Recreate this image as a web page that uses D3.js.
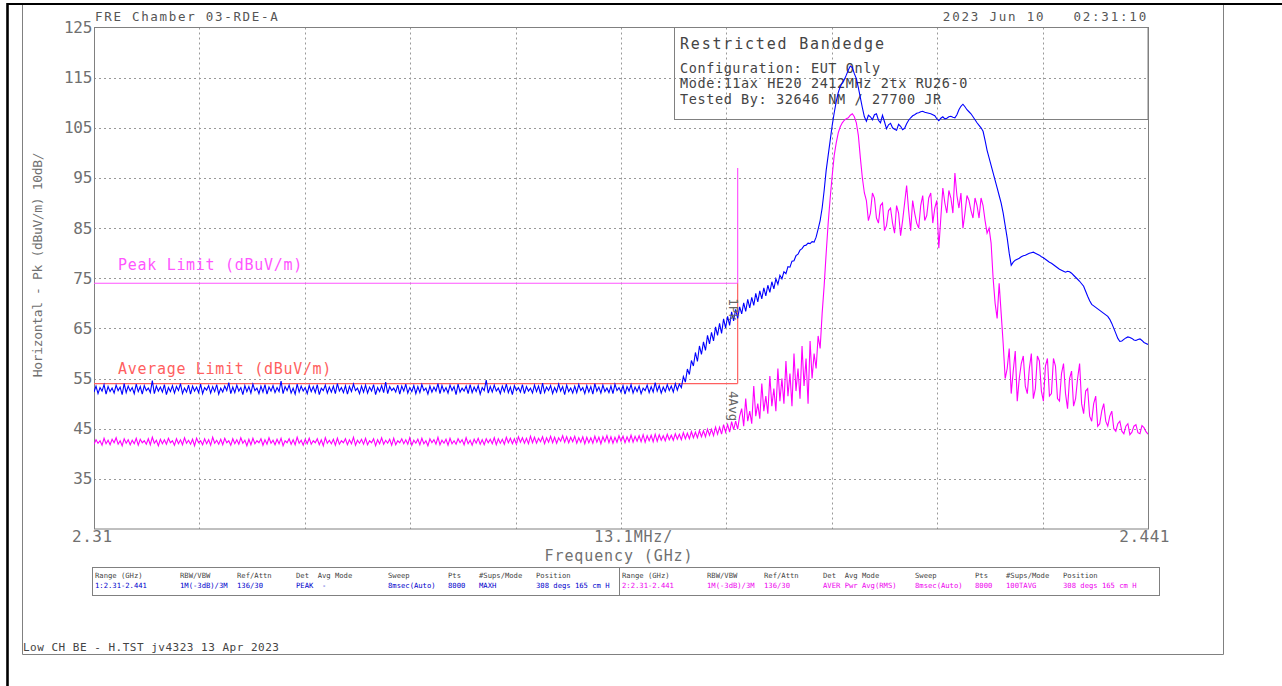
<!DOCTYPE html>
<html><head><meta charset="utf-8">
<script src="https://cdn.jsdelivr.net/npm/d3@7"></script>
<style>
body{margin:0;background:#fff;}
svg{display:block;}
text{font-family:"DejaVu Sans Mono",monospace;}
</style>
</head><body>
<svg id="c" width="1282" height="686"></svg>
<script>
// ---------------- DATA ----------------
const startGHz = 2.31, stopGHz = 2.441, stepGHz = 0.00025;   // display grid: 0.25 MHz per point
// Trace 1: Peak (MAXH), dBuV/m — readings at 2.3100, 2.3105, 2.3110 ... GHz
const peakTrace = [
52.3,52.0,52.5,51.9,52.4,52.1,52.6,51.8,52.2,52.5,
52.0,52.4,51.9,52.6,52.2,52.0,52.5,52.3,51.8,52.4,
52.1,52.6,52.0,52.3,51.9,52.5,52.2,52.0,52.7,52.1,
52.4,51.9,52.3,52.6,52.0,52.2,52.5,51.8,52.4,52.1,
52.6,52.0,52.3,51.9,52.5,52.2,52.4,52.0,52.6,52.1,
51.9,52.3,52.5,52.0,52.4,52.2,51.8,52.6,52.1,52.3,
52.0,52.5,52.2,51.9,52.4,52.6,52.0,52.3,52.1,52.5,
51.8,52.4,52.2,52.0,52.6,52.3,51.9,52.5,52.1,52.4,
52.0,52.2,52.6,51.9,52.3,52.5,52.0,52.4,52.1,52.6,
51.8,52.3,52.5,52.0,52.2,52.4,51.9,52.6,52.1,52.3,
52.5,52.0,52.4,52.2,51.8,52.6,52.3,52.0,52.5,52.1,
52.4,51.9,52.2,52.6,52.0,52.3,52.5,51.8,52.4,52.1,
52.2,52.6,52.0,52.3,51.9,52.5,52.1,52.4,52.2,52.0,
52.6,52.3,51.9,52.5,52.1,52.4,52.0,52.6,52.2,52.3,
52.5,52.1,52.4,52.6,52.3,52.7,
53.2,54.3,55.8,57.5,58.4,59.8,60.6,61.9,62.5,63.6,
64.0,65.1,65.6,66.5,67.0,67.9,68.4,69.1,69.6,70.3,
70.9,71.5,72.2,72.9,73.8,74.9,75.9,77.2,78.5,79.8,
80.9,81.6,81.9,82.2,84.8,89.0,96.5,
102.5,108.0,112.0,114.0,115.5,117.3,115.8,113.0,109.0,106.3,
107.2,107.6,106.5,107.5,104.8,105.9,104.7,105.7,104.6,105.8,
107.0,107.6,108.0,108.3,108.0,107.8,107.4,106.4,107.2,106.9,
107.3,107.0,108.6,109.7,108.6,107.8,106.6,105.5,104.3,100.5,
97.5,94.5,91.5,88.0,83.0,77.6,78.6,79.0,79.5,79.8,
80.1,80.0,79.6,79.1,78.5,78.0,77.4,76.8,76.4,76.4,
76.0,75.2,74.4,73.4,71.4,69.8,69.2,68.6,68.0,67.4,
66.0,64.0,62.4,62.8,63.3,63.0,62.6,62.9,62.2,61.8
];
// Trace 1 readings at the in-between points 2.31025, 2.31075 ... GHz
const peakTraceMid = [
53.5,53.2,53.8,53.4,53.1,53.7,53.3,54.0,53.5,53.2,
53.9,53.4,53.6,53.1,54.6,53.5,53.3,53.8,53.2,53.6,
53.4,54.0,53.1,53.7,53.5,53.3,53.9,53.2,53.6,53.4,
53.8,53.1,53.5,54.2,53.3,53.7,53.2,53.6,53.4,53.9,
53.1,53.5,53.8,53.3,53.6,53.2,54.5,53.4,53.7,53.1,
53.9,53.5,53.2,53.6,53.4,53.8,53.1,53.7,53.3,53.5,
54.0,53.2,53.6,53.4,53.9,53.1,53.5,53.7,53.3,53.8,
53.2,53.6,54.3,53.4,53.1,53.7,53.5,53.9,53.2,53.6,
53.4,53.8,53.1,53.5,53.3,54.0,53.6,53.2,53.7,53.4,
53.9,53.1,53.5,53.8,53.3,53.6,53.2,54.7,53.4,53.7,
53.1,53.5,53.9,53.3,53.6,53.2,53.8,53.4,53.1,53.7,
53.5,54.1,53.3,53.6,53.2,53.9,53.4,53.7,53.1,53.5,
53.8,53.2,53.6,53.4,54.0,53.3,53.7,53.1,53.5,53.9,
53.2,53.6,53.4,53.8,53.3,53.5,53.1,53.7,53.4,54.2,
53.6,53.3,53.8,53.5,54.0,
53.9,55.4,56.9,58.6,60.2,61.5,62.3,63.6,64.2,65.3,
66.0,66.9,67.4,68.3,68.8,69.3,70.1,70.8,71.2,72.0,
72.5,73.1,73.6,74.3,74.9,75.6,76.3,77.3,78.4,79.5,
80.6,81.5,82.0,82.3,83.2,86.5,92.5,
99.5,105.5,110.2,113.2,114.6,116.5,117.0,114.8,111.0,107.2,
107.5,106.6,107.8,106.0,106.2,105.6,105.0,104.5,105.3,104.9,
106.5,107.4,107.9,108.2,108.1,107.9,107.6,106.8,106.9,106.8,
107.2,107.1,107.6,109.3,109.2,108.2,107.2,106.0,105.0,102.5,
99.0,96.0,93.0,90.0,85.5,80.0,78.2,78.8,79.3,79.6,
80.0,80.2,79.8,79.3,78.8,78.2,77.7,77.1,76.6,76.2,
76.3,75.6,74.8,73.9,72.4,70.5,69.5,68.9,68.3,67.7,
66.8,65.0,63.0,62.5,63.1,63.2,62.7,62.8,62.6,62.0
];
// Trace 2: Average (Pwr Avg RMS), dBuV/m — readings at 2.3100, 2.3105 ... GHz
const avgTrace = [
41.9,42.1,41.7,42.0,41.8,42.2,41.9,41.6,42.1,41.8,
42.0,41.7,42.2,41.9,41.8,42.1,41.6,42.0,41.9,42.2,
41.7,42.0,41.8,42.1,41.9,41.6,42.2,41.8,42.0,41.7,
42.1,41.9,41.8,42.2,41.7,42.0,41.9,42.1,41.6,41.8,
42.0,42.2,41.7,41.9,42.1,41.8,42.0,41.6,42.2,41.9,
41.8,42.1,41.7,42.0,41.9,42.2,41.8,41.6,42.1,42.0,
41.7,41.9,42.2,41.8,42.0,41.7,42.1,41.9,41.8,42.2,
41.6,42.0,41.9,42.1,41.7,41.8,42.2,42.0,41.9,41.7,
42.1,41.8,42.0,41.6,42.2,41.9,41.8,42.1,41.7,42.0,
41.9,42.2,41.8,42.0,41.7,42.1,41.9,41.8,42.2,42.0,
41.8,42.1,41.9,42.2,42.0,41.9,42.3,42.1,42.0,42.2,
42.1,42.4,42.0,42.3,42.2,42.1,42.5,42.3,42.2,42.4,
42.1,42.3,42.0,42.2,42.1,42.3,42.0,42.4,42.2,42.1,
42.3,42.5,42.2,42.4,42.3,42.5,42.4,42.3,42.6,42.4,
42.5,42.7,42.6,42.8,42.7,42.9,42.8,43.0,43.0,43.2,
43.2,43.4,43.4,43.7,43.6,43.9,43.9,44.3,44.3,44.8,
44.9,49.0,51.0,48.5,53.5,50.0,54.0,51.5,55.5,53.0,
57.0,55.0,58.5,56.0,60.0,57.0,61.5,59.0,62.5,60.0,
63.5,68.0,80.0,91.0,99.5,104.0,106.0,106.8,107.5,107.2,
103.5,95.0,90.5,88.0,91.0,86.0,90.0,85.5,89.0,84.0,
88.0,86.5,93.5,84.5,88.0,85.0,91.5,87.5,92.0,89.0,
81.0,93.0,88.0,91.0,96.0,89.0,85.0,91.5,88.5,91.0,
87.0,89.5,84.0,82.0,70.0,74.0,62.0,57.0,52.0,60.5,
55.0,59.5,52.0,60.0,53.0,58.5,50.5,59.0,52.0,57.5,
50.5,58.0,49.0,56.5,51.0,58.0,48.0,53.0,46.5,51.5,
46.0,50.0,45.5,48.5,44.5,46.5,44.0,46.0,44.3,45.8,
44.0,45.2,43.9
];
// Trace 2 readings at the in-between points
const avgTraceMid = [
42.8,42.6,43.1,42.7,42.9,43.2,42.6,43.0,42.8,42.7,
43.1,42.9,42.6,43.0,43.3,42.7,42.9,42.8,43.1,42.6,
43.0,42.8,43.2,42.7,42.9,43.1,42.6,43.0,42.8,43.3,
42.7,42.9,43.1,42.6,43.0,42.8,43.2,42.7,42.9,43.1,
42.6,43.0,42.8,43.2,42.7,42.9,43.1,42.6,43.0,42.8,
43.3,42.7,42.9,43.1,42.6,43.0,42.8,43.2,42.7,42.9,
43.1,42.6,43.0,42.8,43.3,42.7,42.9,43.1,42.6,43.0,
42.8,43.2,42.7,42.9,43.1,42.6,43.0,42.8,43.2,42.7,
42.9,43.1,42.6,43.0,42.8,43.3,42.7,42.9,43.1,42.6,
43.0,42.8,43.2,42.7,42.9,43.1,42.8,43.0,42.9,43.2,
43.0,42.9,43.3,43.1,43.0,43.4,43.2,43.1,43.5,43.3,
43.1,43.4,43.2,43.5,43.3,43.2,43.6,43.4,43.3,43.5,
43.2,43.4,43.3,43.2,43.5,43.3,43.4,43.6,43.4,43.3,
43.6,43.5,43.4,43.7,43.5,43.6,43.8,43.6,43.7,43.9,
43.8,43.6,43.9,43.7,44.0,43.9,44.2,44.1,44.4,44.3,
44.6,44.6,44.9,44.9,45.3,45.3,45.8,45.8,46.4,46.5,
47.5,
45.5,46.5,46.0,47.5,47.0,48.5,48.0,49.5,48.5,50.5,
50.0,51.5,49.5,52.5,51.0,53.5,50.0,55.0,57.0,61.0,
73.5,
86.0,95.5,102.0,105.2,106.5,107.0,107.8,106.0,99.0,92.0,
86.5,92.0,87.0,89.5,84.5,88.5,86.0,89.5,83.5,90.0,
88.5,90.5,86.0,89.5,86.5,91.0,86.0,90.5,87.0,90.0,
92.5,88.0,91.5,92.0,88.0,90.5,87.0,89.5,91.0,86.5,
85.0,
75.0,67.0,68.0,55.0,61.0,56.5,50.5,58.0,53.5,57.0,
51.0,59.5,52.5,57.5,51.5,59.0,51.0,56.0,52.0,55.0,
49.5,55.0,50.0,52.5,47.5,50.0,45.5,48.5,46.5,47.5,
45.0,46.0,44.5,45.5,43.8,45.5,44.2,45.6,44.4
];
const yTickValues = [125,115,105,95,85,75,65,55,45,35];
const yDomain = [25,125];
const xDivisions = 10;
const peakLimit = 74, avgLimit = 54, bandEdgeGHz = 2.39, markerTopDb = 97;
const markerLabels = ["1Pk","4Avg"];
const headerCols = ["Range (GHz)","RBW/VBW","Ref/Attn","Det  Avg Mode","Sweep","Pts","#Sups/Mode","Position"];
const trace1Row = ["1:2.31-2.441","1M(-3dB)/3M","136/30","PEAK  -","8msec(Auto)","8000","MAXH","308 degs 165 cm H"];
const trace2Row = ["2:2.31-2.441","1M(-3dB)/3M","136/30","AVER Pwr Avg(RMS)","8msec(Auto)","8000","100TAVG","308 degs 165 cm H"];
const titleLeft = "FRE Chamber 03-RDE-A";
const titleRight = "2023 Jun 10   02:31:10";
const boxTitle = "Restricted Bandedge";
const boxLines = ["Configuration: EUT Only","Mode:11ax HE20 2412MHz 2tx RU26-0","Tested By: 32646 NM / 27700 JR"];
const footer = "Low CH BE - H.TST jv4323 13 Apr 2023";

// merge the two reading sets into one sweep
function merge(a, m){ const out=[]; a.forEach((v,i)=>{ out.push(v); if(i<m.length) out.push(m[i]); }); return out; }
const peakSweep = merge(peakTrace, peakTraceMid);
const avgSweep = merge(avgTrace, avgTraceMid);

// ---------------- DRAW ----------------
const svg = d3.select("#c");
const L = 94, R = 1148, T = 27.5, B = 529;
const x = d3.scaleLinear().domain([startGHz, stopGHz]).range([L, R]);
const y = d3.scaleLinear().domain(yDomain).range([B, T]);
const GRAY = "#808080", TXT = "#707070";

// outer frame
svg.append("line").attr("x1",7.5).attr("x2",1282).attr("y1",4).attr("y2",4).attr("stroke","#000").attr("stroke-width",2.2);
svg.append("line").attr("x1",7.5).attr("x2",7.5).attr("y1",3).attr("y2",686).attr("stroke","#000").attr("stroke-width",2.6);
svg.append("path").attr("d","M22.5,5V654.5H1223.5V5").attr("fill","none").attr("stroke",GRAY).attr("stroke-width",1);

// grid
const g = svg.append("g");
yTickValues.slice(1).forEach(v=>{
  g.append("line").attr("x1",L).attr("x2",R).attr("y1",Math.round(y(v))+0.5).attr("y2",Math.round(y(v))+0.5)
   .attr("stroke","#999").attr("stroke-dasharray","2,3");
});
const xGrid = d3.range(1, xDivisions).map(k => startGHz + k*(stopGHz-startGHz)/xDivisions);
xGrid.forEach(f=>{
  g.append("line").attr("x1",Math.round(x(f))+0.5).attr("x2",Math.round(x(f))+0.5).attr("y1",T).attr("y2",B)
   .attr("stroke","#999").attr("stroke-dasharray","2,3");
});
// plot border
svg.append("rect").attr("x",L+0.5).attr("y",T).attr("width",R-L).attr("height",B-T)
  .attr("fill","none").attr("stroke",GRAY).attr("stroke-width",1);

// y tick labels
yTickValues.forEach(v=>{
  svg.append("text").attr("x",92).attr("y",y(v)+5.5).attr("text-anchor","end")
    .attr("font-size",16).attr("letter-spacing",-0.3).attr("fill",TXT).text(v);
});
// y axis label
svg.append("text").attr("transform","translate(42,265) rotate(-90)").attr("text-anchor","middle")
  .attr("font-size",13).attr("letter-spacing",-0.35).attr("fill",TXT).text("Horizontal - Pk (dBuV/m) 10dB/");

// x labels
svg.append("text").attr("x",72).attr("y",542).attr("font-size",16).attr("letter-spacing",0.5).attr("fill",TXT).text(d3.format(".2f")(startGHz));
svg.append("text").attr("x",1170).attr("y",542).attr("text-anchor","end").attr("font-size",16).attr("letter-spacing",0.5).attr("fill",TXT).text(d3.format(".3f")(stopGHz));
svg.append("text").attr("x",673).attr("y",542).attr("text-anchor","end").attr("font-size",15).attr("letter-spacing",0.8).attr("fill",TXT)
  .text(d3.format(".1f")((stopGHz-startGHz)/xDivisions*1000)+"MHz/");
svg.append("text").attr("x",619).attr("y",561).attr("text-anchor","middle").attr("font-size",15).attr("letter-spacing",0.9).attr("fill",TXT).text("Frequency (GHz)");

// titles
svg.append("text").attr("x",95).attr("y",21).attr("font-size",12.5).attr("letter-spacing",1.7).attr("fill","#555").text(titleLeft);
svg.append("text").attr("x",1148).attr("y",21).attr("text-anchor","end").attr("font-size",12.5).attr("letter-spacing",1.8).attr("fill","#555").attr("xml:space","preserve").text(titleRight);

// annotation box
svg.append("rect").attr("x",674.5).attr("y",T).attr("width",R-674.5).attr("height",92).attr("fill","none").attr("stroke",GRAY);
svg.append("text").attr("x",680).attr("y",49).attr("font-size",15).attr("letter-spacing",1.8).attr("fill","#444").text(boxTitle);
boxLines.forEach((s,i)=>{
  svg.append("text").attr("x",680).attr("y",73+i*15.3).attr("font-size",13.5).attr("letter-spacing",0.6).attr("fill","#444").text(s);
});

// limit lines
const PK = "#ff55ff", AV = "#ff5f5f";
svg.append("line").attr("x1",L).attr("x2",x(bandEdgeGHz)).attr("y1",y(peakLimit)).attr("y2",y(peakLimit)).attr("stroke",PK).attr("stroke-width",1.2);
svg.append("line").attr("x1",L).attr("x2",x(bandEdgeGHz)).attr("y1",y(avgLimit)).attr("y2",y(avgLimit)).attr("stroke",AV).attr("stroke-width",1.2);
svg.append("line").attr("x1",x(bandEdgeGHz)).attr("x2",x(bandEdgeGHz)).attr("y1",y(markerTopDb)).attr("y2",y(peakLimit)).attr("stroke",PK).attr("stroke-width",1.2);
svg.append("line").attr("x1",x(bandEdgeGHz)).attr("x2",x(bandEdgeGHz)).attr("y1",y(peakLimit)).attr("y2",y(avgLimit)).attr("stroke",AV).attr("stroke-width",1.2);
svg.append("text").attr("x",118).attr("y",y(peakLimit)-13).attr("font-size",15).attr("letter-spacing",0.7).attr("fill",PK).text("Peak Limit (dBuV/m)");
svg.append("text").attr("x",118).attr("y",y(avgLimit)-10).attr("font-size",15).attr("letter-spacing",0.7).attr("fill",AV).text("Average Limit (dBuV/m)");

// traces
svg.append("clipPath").attr("id","clip").append("rect").attr("x",L).attr("y",T).attr("width",R-L).attr("height",B-T);
const line = d3.line().x((d,i)=>x(startGHz+i*stepGHz)).y(d=>y(d));
svg.append("path").datum(avgSweep).attr("clip-path","url(#clip)").attr("d",line).attr("fill","none").attr("stroke","#ff00ff").attr("stroke-width",1.1);
svg.append("path").datum(peakSweep).attr("clip-path","url(#clip)").attr("d",line).attr("fill","none").attr("stroke","#0000ff").attr("stroke-width",1.1);

// markers
svg.append("text").attr("transform",`translate(${x(bandEdgeGHz)-9},${y(71)}) rotate(90)`).attr("font-size",12.5).attr("fill","#666").text(markerLabels[0]);
svg.append("text").attr("transform",`translate(${x(bandEdgeGHz)-9},${y(52.5)}) rotate(90)`).attr("font-size",12.5).attr("fill","#666").text(markerLabels[1]);

// bottom table
svg.append("rect").attr("x",92.5).attr("y",567.5).attr("width",1067).attr("height",28).attr("fill","none").attr("stroke",GRAY);
svg.append("line").attr("x1",619.5).attr("x2",619.5).attr("y1",567.5).attr("y2",595.5).attr("stroke",GRAY);
const colOff = [3,88,145,204,296,356,387,444];
[[92,trace1Row,"#0000cc"],[619,trace2Row,"#ee00ee"]].forEach(([x0,row,col])=>{
  headerCols.forEach((h,i)=>{
    svg.append("text").attr("x",x0+colOff[i]).attr("y",578).attr("font-size",7.2).attr("fill","#444").attr("xml:space","preserve").text(h);
  });
  row.forEach((v,i)=>{
    svg.append("text").attr("x",x0+colOff[i]).attr("y",588).attr("font-size",7.2).attr("fill",col).attr("xml:space","preserve").text(v);
  });
});

// footer
svg.append("text").attr("x",23).attr("y",651).attr("font-size",11).attr("letter-spacing",0.5).attr("fill","#444").text(footer);
</script>
</body></html>
